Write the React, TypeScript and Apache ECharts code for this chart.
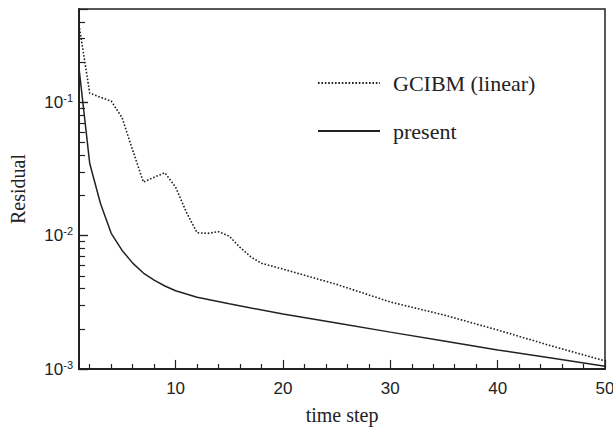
import React, { useEffect, useRef } from "react";
import * as echarts from "echarts";

const gcibmX = [1, 2, 3, 4, 5, 6, 7, 8, 9, 10, 11, 12, 13, 14, 15, 16, 17, 18, 20, 25, 30, 35, 40, 45, 50];
const gcibmY = [0.38, 0.117, 0.109, 0.102, 0.077, 0.0437, 0.0252, 0.0274, 0.0296, 0.0231, 0.015, 0.0105, 0.0104, 0.0107, 0.0099, 0.00816, 0.00694, 0.0062, 0.00561, 0.00431, 0.00318, 0.00254, 0.00196, 0.00149, 0.00115];

const presentX = [1, 2, 3, 4, 5, 6, 7, 8, 9, 10, 12, 15, 20, 25, 30, 35, 40, 45, 50];
const presentY = [0.18, 0.0347, 0.0174, 0.0104, 0.00778, 0.00622, 0.00524, 0.00464, 0.00419, 0.00386, 0.00345, 0.00308, 0.00258, 0.00221, 0.00189, 0.00162, 0.00139, 0.00121, 0.00105];

const xMajorTicks = [10, 20, 30, 40, 50];
const xMinorTicks = [2, 4, 6, 8, 12, 14, 16, 18, 22, 24, 26, 28, 32, 34, 36, 38, 42, 44, 46, 48];
const yMajorTicks = [0.001, 0.01, 0.1];
const yMinorTicks = [0.002, 0.003, 0.004, 0.005, 0.006, 0.007, 0.008, 0.009, 0.02, 0.03, 0.04, 0.05, 0.06, 0.07, 0.08, 0.09, 0.2, 0.3, 0.4];
const yLabelMap: Record<string, string> = { "0.001": "-3", "0.01": "-2", "0.1": "-1" };

const INK = "#222";
const X_MIN = 1;
const X_MAX = 50;
const Y_MIN = 0.001;
const Y_MAX = 0.5;

// tick lengths expressed in data units (x: linear units, y: log factor)
const X_TICK_MAJOR = 1.17;
const X_TICK_MINOR = 1.09;
const Y_TICK_MAJOR = 0.84;
const Y_TICK_MINOR = 0.56;

export default function App() {
  const ref = useRef<HTMLDivElement>(null);
  useEffect(() => {
    document.body.style.margin = "0";
    const chart = echarts.init(ref.current!, undefined, { renderer: "svg" });
    const sans = "Liberation Sans";
    const serif = "Liberation Serif";

    const tickLines = [
      ...xMajorTicks.map((v) => [{ coord: [v, Y_MIN] }, { coord: [v, Y_MIN * X_TICK_MAJOR] }]),
      ...xMinorTicks.map((v) => [{ coord: [v, Y_MIN] }, { coord: [v, Y_MIN * X_TICK_MINOR] }]),
      ...yMajorTicks.map((v) => [{ coord: [X_MIN, v] }, { coord: [X_MIN + Y_TICK_MAJOR, v] }]),
      ...yMinorTicks.map((v) => [{ coord: [X_MIN, v] }, { coord: [X_MIN + Y_TICK_MINOR, v] }]),
    ];

    chart.setOption({
      animation: false,
      backgroundColor: "#fff",
      grid: {
        left: 79, top: 9, right: 8, bottom: 58,
        containLabel: false,
        outerBoundsMode: "none",
        show: true, borderColor: INK, borderWidth: 1.5, backgroundColor: "transparent",
      },
      legend: {
        orient: "vertical",
        left: 312,
        top: 67,
        itemWidth: 62,
        itemHeight: 14,
        itemGap: 26,
        itemStyle: { opacity: 0 },
        textStyle: { fontFamily: serif, fontSize: 22, color: INK, lineHeight: 22, padding: [0, 0, 0, 8] },
        data: ["GCIBM (linear)", "present"],
      },
      xAxis: {
        type: "value", min: X_MIN, max: X_MAX,
        name: "time step", nameLocation: "middle", nameGap: 36,
        nameTextStyle: { fontFamily: serif, fontSize: 20, color: INK },
        axisLine: { show: true, lineStyle: { color: INK, width: 2 } },
        axisTick: { show: false },
        axisLabel: { customValues: xMajorTicks, fontFamily: sans, fontSize: 17, color: INK, margin: 11 },
        splitLine: { show: false },
      },
      yAxis: {
        type: "log", min: Y_MIN, max: Y_MAX, logBase: 10,
        name: "Residual", nameLocation: "middle", nameGap: 51, nameRotate: 90,
        nameTextStyle: { fontFamily: serif, fontSize: 20, color: INK },
        axisLine: { show: true, lineStyle: { color: INK, width: 2 } },
        axisTick: { show: true, inside: true, length: 9, lineStyle: { color: INK, width: 1.2 } },
        axisLabel: {
          customValues: yMajorTicks,
          margin: 6,
          formatter: (v: number) => {
            const key = String(Number(v.toPrecision(3)));
            const e = yLabelMap[key] ?? String(Math.round(Math.log10(v)));
            return "{b|10}{s|" + e + "}";
          },
          rich: {
            b: { fontFamily: sans, fontSize: 17, color: INK },
            s: { fontFamily: sans, fontSize: 11, color: INK, padding: [0, 0, 9, 0] },
          },
        },
        splitLine: { show: false },
      },
      series: [
        {
          name: "GCIBM (linear)",
          type: "line",
          symbol: "none",
          data: gcibmX.map((x, i) => [x, gcibmY[i]]),
          lineStyle: { color: INK, width: 1.6, type: [1.6, 1.8] },
          itemStyle: { color: INK },
        },
        {
          name: "present",
          type: "line",
          symbol: "none",
          data: presentX.map((x, i) => [x, presentY[i]]),
          lineStyle: { color: INK, width: 1.5, type: "solid" },
          itemStyle: { color: INK },
          markLine: {
            silent: true,
            symbol: ["none", "none"],
            label: { show: false },
            emphasis: { disabled: true },
            lineStyle: { color: INK, width: 1.2, type: "solid" },
            data: tickLines,
          },
        },
      ],
    });
    return () => chart.dispose();
  }, []);
  return <div ref={ref} style={{ width: 613, height: 427 }} />;
}
